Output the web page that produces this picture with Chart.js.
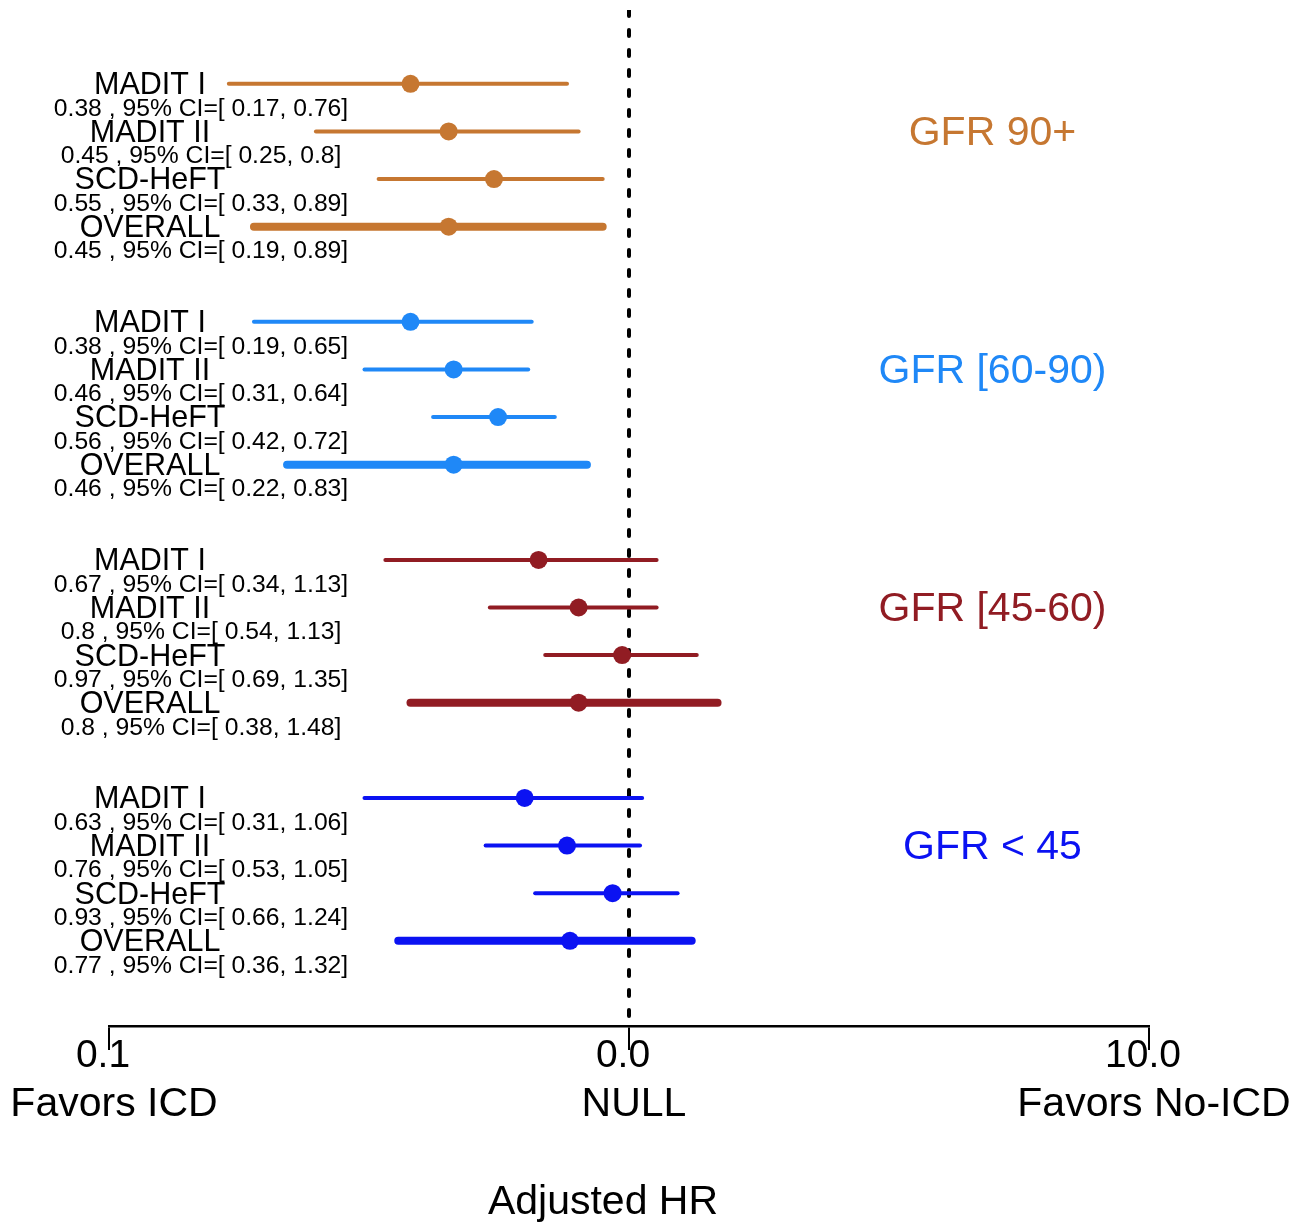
<!DOCTYPE html>
<html>
<head>
<meta charset="utf-8">
<script src="https://cdn.jsdelivr.net/npm/chart.js@4.4.1/dist/chart.umd.min.js"></script>
<style>
  html, body { margin: 0; padding: 0; background: #fff; }
  #wrap { width: 1310px; height: 1226px; position: relative; }
</style>
</head>
<body>
<div id="wrap"><canvas id="forest"></canvas></div>
<script>
// dados do forest plot
const groups = ['GFR 90+', 'GFR [60-90)', 'GFR [45-60)', 'GFR < 45'];
const studies = ['MADIT I', 'MADIT II', 'SCD-HeFT', 'OVERALL'];
const hr    = [[0.38, 0.45, 0.55, 0.45], [0.38, 0.46, 0.56, 0.46], [0.67, 0.8, 0.97, 0.8], [0.63, 0.76, 0.93, 0.77]];
const lower = [[0.17, 0.25, 0.33, 0.19], [0.19, 0.31, 0.42, 0.22], [0.34, 0.54, 0.69, 0.38], [0.31, 0.53, 0.66, 0.36]];
const upper = [[0.76, 0.8, 0.89, 0.89], [0.65, 0.64, 0.72, 0.83], [1.13, 1.13, 1.35, 1.48], [1.06, 1.05, 1.24, 1.32]];
const tickValues = [0.1, 1, 10];
const tickLabels = ['0.1', '0.0', '10.0'];
const sideLabels = ['Favors ICD', 'NULL', 'Favors No-ICD'];
const groupColors = ['#C67731', '#1F88F7', '#911C23', '#0B12F2'];

const FONT = "'Liberation Sans', Arial, Helvetica, sans-serif";

// linha de cada estudo: grupo * 5 + estudo (deixa um espaço entre grupos)
const rowOf = (g, s) => g * 5 + s;

const datasets = [];

// pontos (HR) por cima de tudo
groups.forEach((name, g) => {
    datasets.push({
        type: 'scatter',
        label: name + ' HR',
        data: studies.map((st, s) => ({ x: hr[g][s], y: rowOf(g, s) })),
        backgroundColor: groupColors[g],
        borderWidth: 0,
        pointRadius: 9,
        order: 0
    });
});

// intervalos de confiança
groups.forEach((name, g) => {
    studies.forEach((st, s) => {
        datasets.push({
            type: 'scatter',
            label: name + ' ' + st,
            data: [{ x: lower[g][s], y: rowOf(g, s) }, { x: upper[g][s], y: rowOf(g, s) }],
            showLine: true,
            borderColor: groupColors[g],
            borderWidth: st === 'OVERALL' ? 8 : 4,
            borderCapStyle: 'round',
            pointRadius: 0,
            order: 1
        });
    });
});

// linha nula pontilhada
datasets.push({
    type: 'scatter',
    label: 'null',
    data: [{ x: 1, y: -1.55 }, { x: 1, y: 19.79 }],
    showLine: true,
    borderColor: '#000',
    borderWidth: 4,
    borderDash: [6, 14],
    borderCapStyle: 'round',
    pointRadius: 0,
    order: 2
});

const textPlugin = {
    id: 'forestText',
    afterDraw(chart) {
        const ctx = chart.ctx;
        const xs = chart.scales.x;
        const ys = chart.scales.y;
        const left = chart.chartArea.left;
        ctx.save();
        ctx.textAlign = 'center';
        ctx.textBaseline = 'middle';
        groups.forEach((name, g) => {
            studies.forEach((st, s) => {
                const y = ys.getPixelForValue(rowOf(g, s));
                ctx.fillStyle = '#000';
                ctx.font = '30.5px ' + FONT;
                ctx.fillText(st, left + 41, y + 2);
                ctx.font = '24.7px ' + FONT;
                ctx.fillText(hr[g][s] + ' , 95% CI=[ ' + lower[g][s] + ', ' + upper[g][s] + ']', left + 92, y + 25);
            });
            // rótulo do grupo
            ctx.fillStyle = groupColors[g];
            ctx.font = '41px ' + FONT;
            ctx.fillText(name, xs.getPixelForValue(5), ys.getPixelForValue(rowOf(g, 1)) + 2);
        });
        ctx.fillStyle = '#000';
        ctx.font = '41px ' + FONT;
        tickValues.forEach((v, i) => {
            ctx.fillText(sideLabels[i], xs.getPixelForValue(v) + 5, 1105);
        });
        ctx.fillText('Adjusted HR', xs.getPixelForValue(1) - 26, 1203);
        ctx.restore();
    }
};

new Chart(document.getElementById('forest'), {
    data: { datasets: datasets },
    options: {
        responsive: true,
        maintainAspectRatio: false,
        animation: false,
        layout: { padding: { left: 109, right: 161, top: 10, bottom: 0 } },
        plugins: {
            legend: { display: false },
            tooltip: { enabled: false }
        },
        scales: {
            x: {
                type: 'logarithmic',
                position: 'bottom',
                min: 0.1,
                max: 10,
                afterBuildTicks: scale => {
                    scale.ticks = tickValues.map(v => ({ value: v }));
                },
                afterFit: scale => { scale.height = 200; },
                ticks: {
                    autoSkip: false,
                    maxRotation: 0,
                    color: '#000',
                    font: { family: FONT, size: 39 },
                    padding: -17,
                    labelOffset: -6,
                    callback: (val, idx) => tickLabels[idx]
                },
                grid: {
                    drawOnChartArea: false,
                    drawTicks: true,
                    tickLength: 24,
                    color: '#000',
                    lineWidth: 2
                },
                border: { display: true, color: '#000', width: 2.5 }
            },
            y: {
                type: 'linear',
                reverse: true,
                min: -1.55,
                max: 19.79,
                display: false
            }
        }
    },
    plugins: [textPlugin]
});
</script>
</body>
</html>
